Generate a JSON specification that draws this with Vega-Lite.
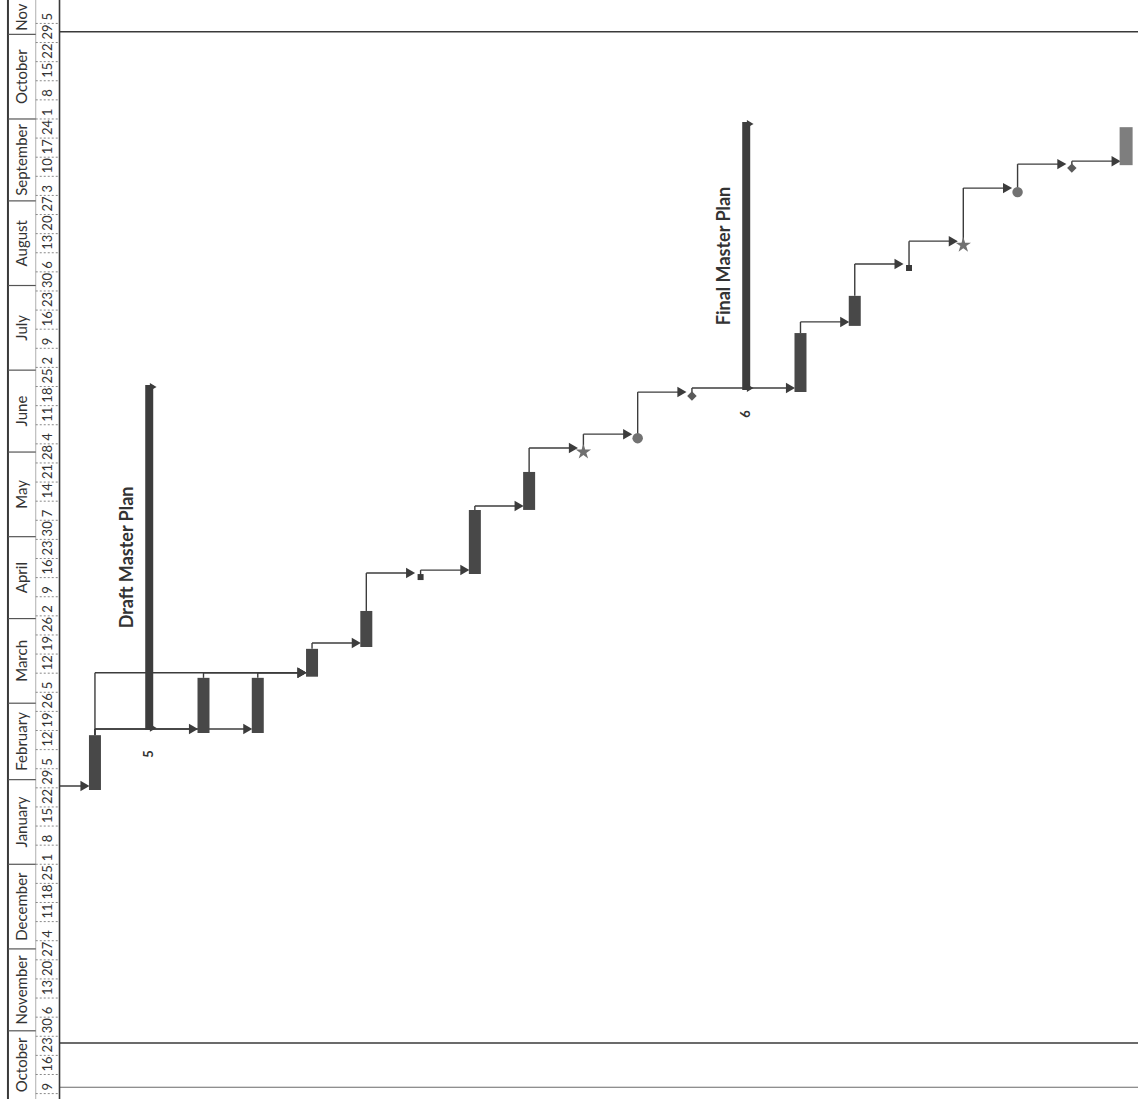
{
  "$schema": "https://vega.github.io/schema/vega-lite/v6.json",
  "width": 1143,
  "height": 1099,
  "autosize": {"type": "fit", "contains": "padding"},
  "padding": 0,
  "background": "white",
  "config": {"view": {"stroke": null}, "font": "Lato"},
  "datasets": {
    "tasks": [
      {"lane": 1, "type": "bar", "style": "work", "start": "2017-01-28T05:00", "end": "2017-02-17T07:00"},
      {"lane": 2, "type": "summary", "name": "Draft Master Plan", "id": "5", "start": "2017-02-19T05:00", "end": "2017-06-25T14:00"},
      {"lane": 3, "type": "bar", "style": "work", "start": "2017-02-18T02:00", "end": "2017-03-10T07:00"},
      {"lane": 4, "type": "bar", "style": "work", "start": "2017-02-18T02:00", "end": "2017-03-10T07:00"},
      {"lane": 5, "type": "bar", "style": "work", "start": "2017-03-10T17:00", "end": "2017-03-20T22:00"},
      {"lane": 6, "type": "bar", "style": "work", "start": "2017-03-21T14:00", "end": "2017-04-03T19:00"},
      {"lane": 7, "type": "marker", "style": "A", "start": "2017-04-16T05:00", "end": "2017-04-16T05:00"},
      {"lane": 8, "type": "bar", "style": "work", "start": "2017-04-17T07:00", "end": "2017-05-10T19:00"},
      {"lane": 9, "type": "bar", "style": "work", "start": "2017-05-10T19:00", "end": "2017-05-24T17:00"},
      {"lane": 10, "type": "marker", "style": "B", "start": "2017-06-01T00:00", "end": "2017-06-01T00:00"},
      {"lane": 11, "type": "marker", "style": "C", "start": "2017-06-06T02:00", "end": "2017-06-06T02:00"},
      {"lane": 12, "type": "marker", "style": "D", "start": "2017-06-21T12:00", "end": "2017-06-21T12:00"},
      {"lane": 13, "type": "summary", "name": "Final Master Plan", "id": "6", "start": "2017-06-23T17:00", "end": "2017-09-29T22:00"},
      {"lane": 14, "type": "bar", "style": "work", "start": "2017-06-23T00:00", "end": "2017-07-14T14:00"},
      {"lane": 15, "type": "bar", "style": "work", "start": "2017-07-17T05:00", "end": "2017-07-28T05:00"},
      {"lane": 16, "type": "marker", "style": "A", "start": "2017-08-07T10:00", "end": "2017-08-07T10:00"},
      {"lane": 17, "type": "marker", "style": "B", "start": "2017-08-15T19:00", "end": "2017-08-15T19:00"},
      {"lane": 18, "type": "marker", "style": "C", "start": "2017-09-04T05:00", "end": "2017-09-04T05:00"},
      {"lane": 19, "type": "marker", "style": "D", "start": "2017-09-13T00:00", "end": "2017-09-13T00:00"},
      {"lane": 20, "type": "bar", "style": "closeout", "start": "2017-09-14T02:00", "end": "2017-09-28T00:00"}
    ],
    "links": [
      {"from": 0, "to": 1, "fromDate": null, "toDate": "2017-01-28T05:00"},
      {"from": 1, "to": 3, "fromDate": "2017-02-17T07:00", "toDate": "2017-02-18T02:00"},
      {"from": 1, "to": 4, "fromDate": "2017-02-17T07:00", "toDate": "2017-02-18T02:00"},
      {"from": 1, "to": 5, "fromDate": "2017-02-17T07:00", "toDate": "2017-03-10T17:00"},
      {"from": 3, "to": 5, "fromDate": "2017-03-10T07:00", "toDate": "2017-03-10T17:00"},
      {"from": 4, "to": 5, "fromDate": "2017-03-10T07:00", "toDate": "2017-03-10T17:00"},
      {"from": 5, "to": 6, "fromDate": "2017-03-20T22:00", "toDate": "2017-03-21T14:00"},
      {"from": 6, "to": 7, "fromDate": "2017-04-03T19:00", "toDate": "2017-04-16T05:00"},
      {"from": 7, "to": 8, "fromDate": "2017-04-16T05:00", "toDate": "2017-04-17T07:00"},
      {"from": 8, "to": 9, "fromDate": "2017-05-10T19:00", "toDate": "2017-05-10T19:00"},
      {"from": 9, "to": 10, "fromDate": "2017-05-24T17:00", "toDate": "2017-06-01T00:00"},
      {"from": 10, "to": 11, "fromDate": "2017-06-01T00:00", "toDate": "2017-06-06T02:00"},
      {"from": 11, "to": 12, "fromDate": "2017-06-06T02:00", "toDate": "2017-06-21T12:00"},
      {"from": 12, "to": 14, "fromDate": "2017-06-21T12:00", "toDate": "2017-06-23T00:00"},
      {"from": 14, "to": 15, "fromDate": "2017-07-14T14:00", "toDate": "2017-07-17T05:00"},
      {"from": 15, "to": 16, "fromDate": "2017-07-28T05:00", "toDate": "2017-08-07T10:00"},
      {"from": 16, "to": 17, "fromDate": "2017-08-07T10:00", "toDate": "2017-08-15T19:00"},
      {"from": 17, "to": 18, "fromDate": "2017-08-15T19:00", "toDate": "2017-09-04T05:00"},
      {"from": 18, "to": 19, "fromDate": "2017-09-04T05:00", "toDate": "2017-09-13T00:00"},
      {"from": 19, "to": 20, "fromDate": "2017-09-13T00:00", "toDate": "2017-09-14T02:00"}
    ],
    "weeks": [
      {"week": "2016-10-09T00:00"}, {"week": "2016-10-16T00:00"}, {"week": "2016-10-23T00:00"}, {"week": "2016-10-30T00:00"},
      {"week": "2016-11-06T00:00"}, {"week": "2016-11-13T00:00"}, {"week": "2016-11-20T00:00"}, {"week": "2016-11-27T00:00"},
      {"week": "2016-12-04T00:00"}, {"week": "2016-12-11T00:00"}, {"week": "2016-12-18T00:00"}, {"week": "2016-12-25T00:00"},
      {"week": "2017-01-01T00:00"}, {"week": "2017-01-08T00:00"}, {"week": "2017-01-15T00:00"}, {"week": "2017-01-22T00:00"}, {"week": "2017-01-29T00:00"},
      {"week": "2017-02-05T00:00"}, {"week": "2017-02-12T00:00"}, {"week": "2017-02-19T00:00"}, {"week": "2017-02-26T00:00"},
      {"week": "2017-03-05T00:00"}, {"week": "2017-03-12T00:00"}, {"week": "2017-03-19T00:00"}, {"week": "2017-03-26T00:00"},
      {"week": "2017-04-02T00:00"}, {"week": "2017-04-09T00:00"}, {"week": "2017-04-16T00:00"}, {"week": "2017-04-23T00:00"}, {"week": "2017-04-30T00:00"},
      {"week": "2017-05-07T00:00"}, {"week": "2017-05-14T00:00"}, {"week": "2017-05-21T00:00"}, {"week": "2017-05-28T00:00"},
      {"week": "2017-06-04T00:00"}, {"week": "2017-06-11T00:00"}, {"week": "2017-06-18T00:00"}, {"week": "2017-06-25T00:00"},
      {"week": "2017-07-02T00:00"}, {"week": "2017-07-09T00:00"}, {"week": "2017-07-16T00:00"}, {"week": "2017-07-23T00:00"}, {"week": "2017-07-30T00:00"},
      {"week": "2017-08-06T00:00"}, {"week": "2017-08-13T00:00"}, {"week": "2017-08-20T00:00"}, {"week": "2017-08-27T00:00"},
      {"week": "2017-09-03T00:00"}, {"week": "2017-09-10T00:00"}, {"week": "2017-09-17T00:00"}, {"week": "2017-09-24T00:00"},
      {"week": "2017-10-01T00:00"}, {"week": "2017-10-08T00:00"}, {"week": "2017-10-15T00:00"}, {"week": "2017-10-22T00:00"}, {"week": "2017-10-29T00:00"},
      {"week": "2017-11-05T00:00"}
    ],
    "months": [
      {"month": "October", "start": "2016-10-01T00:00", "end": "2016-11-01T00:00"},
      {"month": "November", "start": "2016-11-01T00:00", "end": "2016-12-01T00:00"},
      {"month": "December", "start": "2016-12-01T00:00", "end": "2017-01-01T00:00"},
      {"month": "January", "start": "2017-01-01T00:00", "end": "2017-02-01T00:00"},
      {"month": "February", "start": "2017-02-01T00:00", "end": "2017-03-01T00:00"},
      {"month": "March", "start": "2017-03-01T00:00", "end": "2017-04-01T00:00"},
      {"month": "April", "start": "2017-04-01T00:00", "end": "2017-05-01T00:00"},
      {"month": "May", "start": "2017-05-01T00:00", "end": "2017-06-01T00:00"},
      {"month": "June", "start": "2017-06-01T00:00", "end": "2017-07-01T00:00"},
      {"month": "July", "start": "2017-07-01T00:00", "end": "2017-08-01T00:00"},
      {"month": "August", "start": "2017-08-01T00:00", "end": "2017-09-01T00:00"},
      {"month": "September", "start": "2017-09-01T00:00", "end": "2017-10-01T00:00"},
      {"month": "October", "start": "2017-10-01T00:00", "end": "2017-11-01T00:00"},
      {"month": "Nov", "start": "2017-11-01T00:00", "end": "2017-12-01T00:00"}
    ],
    "frame": [
      {"edge": "top", "date": "2017-11-01T22:00"},
      {"edge": "bottom", "date": "2016-10-27T13:00"}
    ],
    "page": [
      {"edge": "page", "date": "2016-10-11T08:00"}
    ],
    "one": [{}]
  },
  "layer": [
    {
      "data": {"name": "frame"},
      "mark": {"type": "rule", "color": "#3a3a3a", "strokeWidth": 1.5, "clip": true},
      "encoding": {
        "y": {"field": "date", "type": "temporal", "axis": null, "scale": {"domain": [{"year": 2016, "month": 10, "date": 7, "hours": 0, "minutes": 30}, {"year": 2017, "month": 11, "date": 13, "hours": 14}], "nice": false}},
        "x": {"datum": 0.347, "type": "quantitative", "axis": null, "scale": {"domain": [-0.6575, 20.219], "nice": false, "zero": false}},
        "x2": {"datum": 20.219}
      }
    },
    {
      "data": {"name": "page"},
      "mark": {"type": "rule", "color": "#6a6a6a", "strokeWidth": 1.2, "clip": true},
      "encoding": {
        "y": {"field": "date", "type": "temporal"},
        "x": {"datum": -0.25, "type": "quantitative"},
        "x2": {"datum": 20.219}
      }
    },
    {
      "data": {"name": "links"},
      "transform": [{"filter": "isValid(datum.fromDate)"}],
      "mark": {"type": "rule", "color": "#3c3c3c", "strokeWidth": 1.4, "y2Offset": -4, "clip": true},
      "encoding": {
        "x": {"field": "from", "type": "quantitative"},
        "y": {"field": "fromDate", "type": "temporal"},
        "y2": {"field": "toDate"}
      }
    },
    {
      "data": {"name": "links"},
      "mark": {"type": "rule", "color": "#3c3c3c", "strokeWidth": 1.4, "yOffset": -4, "x2Offset": -10, "clip": true},
      "encoding": {
        "x": {"field": "from", "type": "quantitative"},
        "x2": {"field": "to"},
        "y": {"field": "toDate", "type": "temporal"}
      }
    },
    {
      "data": {"name": "links"},
      "mark": {"type": "point", "shape": "triangle-right", "filled": true, "opacity": 1, "size": 110, "color": "#3c3c3c", "xOffset": -10, "yOffset": -4, "clip": true},
      "encoding": {
        "x": {"field": "to", "type": "quantitative"},
        "y": {"field": "toDate", "type": "temporal"}
      }
    },
    {
      "data": {"name": "tasks"},
      "transform": [{"filter": "datum.type === 'summary'"}],
      "mark": {"type": "bar", "orient": "vertical", "size": 8, "color": "#3d3d3d", "clip": true},
      "encoding": {
        "x": {"field": "lane", "type": "quantitative"},
        "y": {"field": "start", "type": "temporal"},
        "y2": {"field": "end"}
      }
    },
    {
      "data": {"name": "tasks"},
      "transform": [{"filter": "datum.type === 'summary'"}],
      "mark": {"type": "point", "shape": "triangle-right", "filled": true, "opacity": 1, "size": 60, "color": "#3d3d3d", "xOffset": 4, "yOffset": -2, "clip": true},
      "encoding": {
        "x": {"field": "lane", "type": "quantitative"},
        "y": {"field": "start", "type": "temporal"}
      }
    },
    {
      "data": {"name": "tasks"},
      "transform": [{"filter": "datum.type === 'summary'"}],
      "mark": {"type": "point", "shape": "triangle-right", "filled": true, "opacity": 1, "size": 60, "color": "#3d3d3d", "xOffset": 4, "yOffset": 2, "clip": true},
      "encoding": {
        "x": {"field": "lane", "type": "quantitative"},
        "y": {"field": "end", "type": "temporal"}
      }
    },
    {
      "data": {"name": "tasks"},
      "transform": [{"filter": "datum.type === 'bar' && datum.style === 'work'"}],
      "mark": {"type": "bar", "orient": "vertical", "size": 12, "color": "#484848", "clip": true},
      "encoding": {
        "x": {"field": "lane", "type": "quantitative"},
        "y": {"field": "start", "type": "temporal"},
        "y2": {"field": "end"}
      }
    },
    {
      "data": {"name": "tasks"},
      "transform": [{"filter": "datum.type === 'bar' && datum.style === 'closeout'"}],
      "mark": {"type": "bar", "orient": "vertical", "size": 13, "color": "#7e7e7e", "clip": true},
      "encoding": {
        "x": {"field": "lane", "type": "quantitative"},
        "y": {"field": "start", "type": "temporal"},
        "y2": {"field": "end"}
      }
    },
    {
      "data": {"name": "tasks"},
      "transform": [{"filter": "datum.type === 'marker' && datum.style === 'A'"}],
      "mark": {"type": "point", "shape": "square", "size": 36, "filled": true, "opacity": 1, "color": "#3a3a3a", "clip": true},
      "encoding": {
        "x": {"field": "lane", "type": "quantitative"},
        "y": {"field": "start", "type": "temporal"}
      }
    },
    {
      "data": {"name": "tasks"},
      "transform": [{"filter": "datum.type === 'marker' && datum.style === 'B'"}],
      "mark": {"type": "point", "shape": "M0,-1L0.2245,-0.309L0.951,-0.309L0.363,0.118L0.588,0.809L0,0.382L-0.588,0.809L-0.363,0.118L-0.951,-0.309L-0.2245,-0.309Z", "size": 260, "filled": true, "opacity": 1, "color": "#707070", "clip": true},
      "encoding": {
        "x": {"field": "lane", "type": "quantitative"},
        "y": {"field": "start", "type": "temporal"}
      }
    },
    {
      "data": {"name": "tasks"},
      "transform": [{"filter": "datum.type === 'marker' && datum.style === 'C'"}],
      "mark": {"type": "point", "shape": "circle", "size": 110, "filled": true, "opacity": 1, "color": "#727272", "clip": true},
      "encoding": {
        "x": {"field": "lane", "type": "quantitative"},
        "y": {"field": "start", "type": "temporal"}
      }
    },
    {
      "data": {"name": "tasks"},
      "transform": [{"filter": "datum.type === 'marker' && datum.style === 'D'"}],
      "mark": {"type": "point", "shape": "diamond", "size": 90, "filled": true, "opacity": 1, "color": "#5a5a5a", "clip": true},
      "encoding": {
        "x": {"field": "lane", "type": "quantitative"},
        "y": {"field": "start", "type": "temporal"}
      }
    },
    {
      "data": {"name": "tasks"},
      "transform": [{"filter": "datum.type === 'summary'"}, {"calculate": "(time(datum.start) + time(datum.end)) / 2", "as": "mid"}],
      "mark": {"type": "text", "angle": 270, "align": "center", "baseline": "middle", "fontSize": 18, "fontWeight": "bold", "color": "#333333", "xOffset": -21, "clip": true},
      "encoding": {
        "x": {"field": "lane", "type": "quantitative"},
        "y": {"field": "mid", "type": "temporal"},
        "text": {"field": "name"}
      }
    },
    {
      "data": {"name": "tasks"},
      "transform": [{"filter": "datum.type === 'summary'"}],
      "mark": {"type": "text", "angle": 270, "align": "center", "baseline": "middle", "fontSize": 13, "fontWeight": "bold", "color": "#333333", "yOffset": 24, "clip": true},
      "encoding": {
        "x": {"field": "lane", "type": "quantitative"},
        "y": {"field": "start", "type": "temporal"},
        "text": {"field": "id"}
      }
    },
    {
      "data": {"name": "one"},
      "mark": {"type": "rect", "color": "white", "clip": true},
      "encoding": {
        "x": {"datum": -0.6575, "type": "quantitative"},
        "x2": {"datum": 0.347}
      }
    },
    {
      "data": {"name": "one"},
      "mark": {"type": "rule", "color": "#3a3a3a", "strokeWidth": 1.6, "clip": true},
      "encoding": {"x": {"datum": 0.347, "type": "quantitative"}}
    },
    {
      "data": {"name": "one"},
      "mark": {"type": "rule", "color": "#3a3a3a", "strokeWidth": 2, "clip": true},
      "encoding": {"x": {"datum": -0.603, "type": "quantitative"}}
    },
    {
      "data": {"name": "one"},
      "mark": {"type": "rule", "color": "#9a9a9a", "strokeWidth": 0.8, "clip": true},
      "encoding": {"x": {"datum": -0.091, "type": "quantitative"}}
    },
    {
      "data": {"name": "months"},
      "mark": {"type": "rule", "color": "#555555", "strokeWidth": 1.2, "clip": true},
      "encoding": {
        "y": {"field": "start", "type": "temporal"},
        "x": {"datum": -0.603, "type": "quantitative"},
        "x2": {"datum": -0.091}
      }
    },
    {
      "data": {"name": "months"},
      "transform": [{"calculate": "(max(time(datum.start), time(datetime(2016, 9, 7))) + min(time(datum.end), time(datetime(2017, 10, 13, 14)))) / 2", "as": "mid"}],
      "mark": {"type": "text", "angle": 270, "align": "center", "baseline": "middle", "fontSize": 15, "color": "#333333", "clip": true},
      "encoding": {
        "y": {"field": "mid", "type": "temporal"},
        "x": {"datum": -0.347, "type": "quantitative"},
        "text": {"field": "month"}
      }
    },
    {
      "data": {"name": "weeks"},
      "mark": {"type": "rule", "color": "#888888", "strokeWidth": 1, "strokeDash": [2, 2], "clip": true},
      "encoding": {
        "y": {"field": "week", "type": "temporal"},
        "x": {"datum": -0.091, "type": "quantitative"},
        "x2": {"datum": 0.347}
      }
    },
    {
      "data": {"name": "weeks"},
      "mark": {"type": "text", "angle": 270, "align": "left", "baseline": "middle", "fontSize": 13, "color": "#333333", "yOffset": -3, "clip": true},
      "encoding": {
        "y": {"field": "week", "type": "temporal"},
        "x": {"datum": 0.128, "type": "quantitative"},
        "text": {"field": "week", "type": "temporal", "format": "%-d"}
      }
    }
  ]
}
